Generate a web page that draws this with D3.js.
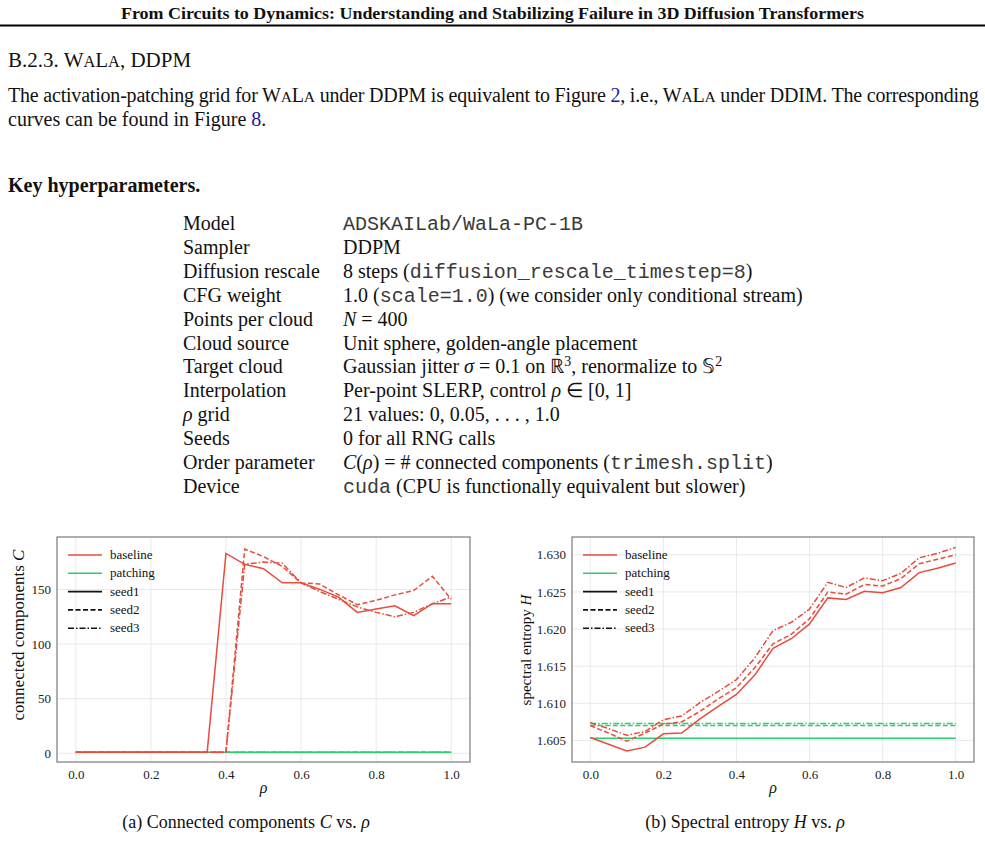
<!DOCTYPE html>
<html>
<head>
<meta charset="utf-8">
<script src="https://cdn.jsdelivr.net/npm/d3@7"></script>
<style>
  body { margin: 0; background: #fff; }
  svg text { fill: #111; }
</style>
</head>
<body>
<div id="page"></div>
<script>
// rho grid (x values for both charts)
var rho = [0.00, 0.05, 0.10, 0.15, 0.20, 0.25, 0.30, 0.35, 0.40, 0.45, 0.50,
           0.55, 0.60, 0.65, 0.70, 0.75, 0.80, 0.85, 0.90, 0.95, 1.00];

// (a) connected components C
var ccBaseSeed1 = [1, 1, 1, 1, 1, 1, 1, 1, 183, 173, 169, 156, 156, 150, 143, 129, 132, 135, 126, 137, 137];
var ccBaseSeed2 = [1, 1, 1, 1, 1, 1, 1, 1, 1, 187, 180, 171, 156, 155, 145, 136, 140, 145, 149, 162, 141];
var ccBaseSeed3 = [1, 1, 1, 1, 1, 1, 1, 1, 1, 173, 175, 174, 156, 148, 141, 134, 129, 125, 129, 137, 143];
var ccPatchSeed1 = [1, 1, 1, 1, 1, 1, 1, 1, 1, 1, 1, 1, 1, 1, 1, 1, 1, 1, 1, 1, 1];
var ccPatchSeed2 = [1, 1, 1, 1, 1, 1, 1, 1, 1, 1, 1, 1, 1, 1, 1, 1, 1, 1, 1, 1, 1];
var ccPatchSeed3 = [1, 1, 1, 1, 1, 1, 1, 1, 1, 1, 1, 1, 1, 1, 1, 1, 1, 1, 1, 1, 1];
var ccTicks = [0, 50, 100, 150];

// (b) spectral entropy H
var hBaseSeed1 = [1.6054, 1.6045, 1.6036, 1.6041, 1.6059, 1.6060, 1.6079, 1.6096, 1.6112, 1.6138, 1.6174,
                  1.6187, 1.6207, 1.6242, 1.6240, 1.6251, 1.6249, 1.6256, 1.6276, 1.6282, 1.6289];
var hBaseSeed2 = [1.6070, 1.6060, 1.6049, 1.6060, 1.6072, 1.6075, 1.6089, 1.6106, 1.6121, 1.6148, 1.6180,
                  1.6193, 1.6214, 1.6250, 1.6247, 1.6260, 1.6258, 1.6268, 1.6288, 1.6294, 1.6300];
var hBaseSeed3 = [1.6074, 1.6066, 1.6057, 1.6062, 1.6078, 1.6083, 1.6101, 1.6116, 1.6132, 1.6161, 1.6198,
                  1.6209, 1.6227, 1.6263, 1.6256, 1.6269, 1.6265, 1.6275, 1.6296, 1.6302, 1.6310];
var hPatchSeed1 = [1.6053, 1.6053, 1.6053, 1.6053, 1.6053, 1.6053, 1.6053, 1.6053, 1.6053, 1.6053, 1.6053,
                   1.6053, 1.6053, 1.6053, 1.6053, 1.6053, 1.6053, 1.6053, 1.6053, 1.6053, 1.6053];
var hPatchSeed2 = [1.6070, 1.6070, 1.6070, 1.6070, 1.6070, 1.6070, 1.6070, 1.6070, 1.6070, 1.6070, 1.6070,
                   1.6070, 1.6070, 1.6070, 1.6070, 1.6070, 1.6070, 1.6070, 1.6070, 1.6070, 1.6070];
var hPatchSeed3 = [1.6073, 1.6073, 1.6073, 1.6073, 1.6073, 1.6073, 1.6073, 1.6073, 1.6073, 1.6073, 1.6073,
                   1.6073, 1.6073, 1.6073, 1.6073, 1.6073, 1.6073, 1.6073, 1.6073, 1.6073, 1.6073];
var hTicks = [1.605, 1.610, 1.615, 1.620, 1.625, 1.630];

var xTicks = [0.0, 0.2, 0.4, 0.6, 0.8, 1.0];
var legendLabels = ["baseline", "patching", "seed1", "seed2", "seed3"];

var serif = "'Liberation Serif', 'Times New Roman', serif";
var mono = "'Liberation Mono', 'Courier New', monospace";
var red = "#e74c3c", green = "#2ecc71";
var dashes = { seed1: null, seed2: "5,2.5", seed3: "6,2,1.5,2" };

var w = 985, h = 856;
var svg = d3.select("#page").append("svg")
    .attr("width", w)
    .attr("height", h);

// rich text helper: segs are strings or [text, style] where style has i (italic), m (mono), b (blue link), s (small cap), ^ (superscript)
function rich(x, y, size, segs, opts) {
    opts = opts || {};
    var t = svg.append("text")
        .attr("x", x).attr("y", y)
        .attr("font-family", serif)
        .attr("font-size", size);
    if (opts.bold) t.attr("font-weight", "bold");
    if (opts.anchor) t.attr("text-anchor", opts.anchor);
    if (opts.len) t.attr("textLength", opts.len).attr("lengthAdjust", "spacingAndGlyphs");
    if (opts.spacing) t.attr("letter-spacing", opts.spacing);
    var shifted = false;
    segs.forEach(function(s) {
        var str = typeof s === "string" ? s : s[0];
        var st = typeof s === "string" ? "" : s[1];
        var ts = t.append("tspan").text(str);
        if (st.indexOf("i") >= 0) ts.attr("font-style", "italic");
        if (st.indexOf("m") >= 0) ts.attr("font-family", mono).style("fill", "#3a3a3a");
        if (st.indexOf("b") >= 0) ts.style("fill", "#1a1a9c");
        if (st.indexOf("s") >= 0) ts.attr("font-size", size * 0.78);
        if (st.indexOf("^") >= 0) {
            ts.attr("font-size", size * 0.7).attr("dy", -size * 0.38);
            shifted = true;
        } else if (shifted) {
            ts.attr("dy", size * 0.38);
            shifted = false;
        }
    });
    return t;
}

// page header
rich(492.5, 19, 17, ["From Circuits to Dynamics: Understanding and Stabilizing Failure in 3D Diffusion Transformers"],
    { bold: true, anchor: "middle", len: 743 });
svg.append("line")
    .attr("x1", 0).attr("x2", w)
    .attr("y1", 25.5).attr("y2", 25.5)
    .attr("stroke", "#000").attr("stroke-width", 1.8);

rich(8, 67, 21, ["B.2.3. W", ["A", "s"], "L", ["A", "s"], ", DDPM"]);
rich(8, 102, 20, ["The activation-patching grid for W", ["A", "s"], "L", ["A", "s"],
    " under DDPM is equivalent to Figure ", ["2", "b"], ", i.e., W", ["A", "s"], "L", ["A", "s"],
    " under DDIM. The corresponding"], { spacing: -0.2 });
rich(8, 126, 20, ["curves can be found in Figure ", ["8", "b"], "."]);
rich(8, 192, 20, ["Key hyperparameters."], { bold: true });

// hyperparameter table
var tableRows = [
    [["Model"], [["ADSKAILab/WaLa-PC-1B", "m"]]],
    [["Sampler"], ["DDPM"]],
    [["Diffusion rescale"], ["8 steps (", ["diffusion_rescale_timestep=8", "m"], ")"]],
    [["CFG weight"], ["1.0 (", ["scale=1.0", "m"], ") (we consider only conditional stream)"]],
    [["Points per cloud"], [["N", "i"], " = 400"]],
    [["Cloud source"], ["Unit sphere, golden-angle placement"]],
    [["Target cloud"], ["Gaussian jitter ", ["σ", "i"], " = 0.1 on ℝ", ["3", "^"], ", renormalize to 𝕊", ["2", "^"]]],
    [["Interpolation"], ["Per-point SLERP, control ", ["ρ", "i"], " ∈ [0, 1]"]],
    [[["ρ", "i"], " grid"], ["21 values: 0, 0.05, . . . , 1.0"]],
    [["Seeds"], ["0 for all RNG calls"]],
    [["Order parameter"], [["C", "i"], "(", ["ρ", "i"], ") = # connected components (", ["trimesh.split", "m"], ")"]],
    [["Device"], [["cuda", "m"], " (CPU is functionally equivalent but slower)"]]
];
tableRows.forEach(function(r, i) {
    var y = 230 + i * 23.9;
    rich(183, y, 20, r[0]);
    rich(343, y, 20, r[1]);
});

// one chart panel
function drawChart(cfg) {
    var x = d3.scaleLinear().domain([-0.05, 1.05]).range([cfg.left, cfg.right]);
    var y = d3.scaleLinear().domain(cfg.yDomain).range([cfg.bottom, cfg.top]);
    var g = svg.append("g");

    // grid
    g.selectAll(".gx").data(xTicks).enter().append("line")
        .attr("x1", function(d) { return x(d); }).attr("x2", function(d) { return x(d); })
        .attr("y1", cfg.top).attr("y2", cfg.bottom)
        .attr("stroke", "#e6e6e6").attr("stroke-width", 0.9);
    g.selectAll(".gy").data(cfg.yTicks).enter().append("line")
        .attr("x1", cfg.left).attr("x2", cfg.right)
        .attr("y1", function(d) { return y(d); }).attr("y2", function(d) { return y(d); })
        .attr("stroke", "#e6e6e6").attr("stroke-width", 0.9);

    // axes (labels only, frame drawn below)
    var xAxis = g.append("g")
        .attr("transform", "translate(0," + cfg.bottom + ")")
        .call(d3.axisBottom(x).tickValues(xTicks).tickSize(0).tickPadding(8).tickFormat(d3.format(".1f")));
    var yAxis = g.append("g")
        .attr("transform", "translate(" + cfg.left + ",0)")
        .call(d3.axisLeft(y).tickValues(cfg.yTicks).tickSize(0).tickPadding(6).tickFormat(cfg.yFormat));
    [xAxis, yAxis].forEach(function(a) {
        a.select(".domain").remove();
        a.selectAll("text").attr("font-family", serif).attr("font-size", 13).style("fill", "#222");
    });

    // lines: patching first, baseline on top
    var line = d3.line()
        .x(function(d, i) { return x(rho[i]); })
        .y(function(d) { return y(d); });
    cfg.series.forEach(function(s) {
        g.append("path")
            .datum(s.values)
            .attr("d", line)
            .attr("fill", "none")
            .attr("stroke", s.color)
            .attr("stroke-width", 1.5)
            .attr("stroke-dasharray", dashes[s.seed]);
    });

    // frame
    g.append("rect")
        .attr("x", cfg.left).attr("y", cfg.top)
        .attr("width", cfg.right - cfg.left).attr("height", cfg.bottom - cfg.top)
        .attr("fill", "none").attr("stroke", "#7a7a7a").attr("stroke-width", 1.2);

    // legend
    var legColors = [red, green, "#111", "#111", "#111"];
    var legDash = [null, null, null, dashes.seed2, dashes.seed3];
    legendLabels.forEach(function(lab, i) {
        var ly = 555 + i * 18.3;
        g.append("line")
            .attr("x1", cfg.legX).attr("x2", cfg.legX + 34)
            .attr("y1", ly).attr("y2", ly)
            .attr("stroke", legColors[i]).attr("stroke-width", 1.6)
            .attr("stroke-dasharray", legDash[i]);
        g.append("text")
            .attr("x", cfg.legX + 42).attr("y", ly + 4)
            .attr("font-family", serif).attr("font-size", 13)
            .text(lab);
    });

    // axis titles
    g.append("text")
        .attr("x", (cfg.left + cfg.right) / 2).attr("y", 793)
        .attr("text-anchor", "middle")
        .attr("font-family", serif).attr("font-style", "italic").attr("font-size", 16)
        .text("ρ");
    var yl = g.append("text")
        .attr("transform", "translate(" + cfg.yLabelX + "," + cfg.yLabelY + ") rotate(-90)")
        .attr("text-anchor", "middle")
        .attr("font-family", serif).attr("font-size", cfg.yLabelSize);
    yl.append("tspan").text(cfg.yLabel);
    yl.append("tspan").attr("font-style", "italic").text(cfg.yVar);
}

drawChart({
    left: 57, right: 470, top: 537, bottom: 762,
    yDomain: [-8, 198], yTicks: ccTicks, yFormat: d3.format("d"),
    legX: 68, yLabelX: 24, yLabelY: 635, yLabelSize: 17,
    yLabel: "connected components ", yVar: "C",
    series: [
        { values: ccPatchSeed1, color: green, seed: "seed1" },
        { values: ccPatchSeed2, color: green, seed: "seed2" },
        { values: ccPatchSeed3, color: green, seed: "seed3" },
        { values: ccBaseSeed1, color: red, seed: "seed1" },
        { values: ccBaseSeed2, color: red, seed: "seed2" },
        { values: ccBaseSeed3, color: red, seed: "seed3" }
    ]
});

drawChart({
    left: 572, right: 974, top: 537, bottom: 762,
    yDomain: [1.6021, 1.6324], yTicks: hTicks, yFormat: d3.format(".3f"),
    legX: 583, yLabelX: 531, yLabelY: 650, yLabelSize: 15,
    yLabel: "spectral entropy ", yVar: "H",
    series: [
        { values: hPatchSeed1, color: green, seed: "seed1" },
        { values: hPatchSeed2, color: green, seed: "seed2" },
        { values: hPatchSeed3, color: green, seed: "seed3" },
        { values: hBaseSeed1, color: red, seed: "seed1" },
        { values: hBaseSeed2, color: red, seed: "seed2" },
        { values: hBaseSeed3, color: red, seed: "seed3" }
    ]
});

// sub-captions
rich(246, 828, 18, ["(a) Connected components ", ["C", "i"], " vs. ", ["ρ", "i"]], { anchor: "middle" });
rich(745, 828, 18, ["(b) Spectral entropy ", ["H", "i"], " vs. ", ["ρ", "i"]], { anchor: "middle" });
</script>
</body>
</html>
